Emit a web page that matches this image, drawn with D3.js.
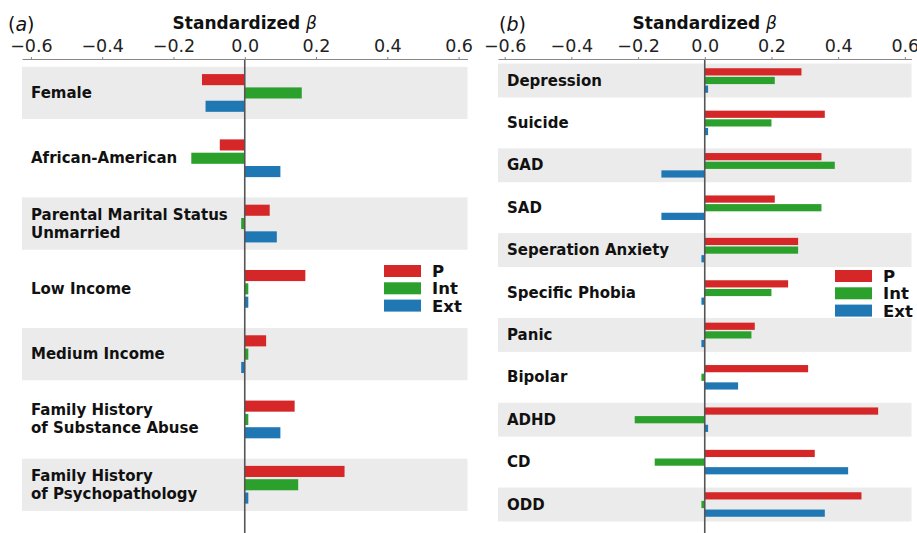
<!DOCTYPE html>
<html>
<head>
<meta charset="utf-8">
<script src="https://cdn.jsdelivr.net/npm/d3@7"></script>
<style>
  html, body { margin: 0; padding: 0; background: #fff; }
  svg { display: block; font-family: "DejaVu Sans", sans-serif; }
</style>
</head>
<body>
<svg id="chart" width="917" height="533"></svg>
<script>
// Predictor effects (panel a) and outcome effects (panel b), standardized beta
const series = ["P", "Int", "Ext"];
const seriesColors = ["#d62728", "#2ca02c", "#1f77b4"];

const predictors = [
  ["Female"],
  ["African-American"],
  ["Parental Marital Status", "Unmarried"],
  ["Low Income"],
  ["Medium Income"],
  ["Family History", "of Substance Abuse"],
  ["Family History", "of Psychopathology"]
];
const predP   = [-0.12, -0.07, 0.07, 0.17, 0.06, 0.14, 0.28];
const predInt = [ 0.16, -0.15, -0.01, 0.01, 0.01, 0.01, 0.15];
const predExt = [-0.11,  0.10, 0.09, 0.01, -0.01, 0.10, 0.01];

const outcomes = ["Depression", "Suicide", "GAD", "SAD", "Seperation Anxiety",
  "Specific Phobia", "Panic", "Bipolar", "ADHD", "CD", "ODD"];
const outP   = [0.29, 0.36, 0.35, 0.21, 0.28, 0.25, 0.15, 0.31, 0.52, 0.33, 0.47];
const outInt = [0.21, 0.20, 0.39, 0.35, 0.28, 0.20, 0.14, -0.01, -0.21, -0.15, -0.01];
const outExt = [0.01, 0.01, -0.13, -0.13, -0.01, -0.01, -0.01, 0.10, 0.01, 0.43, 0.36];

const xTicks = [-0.6, -0.4, -0.2, 0.0, 0.2, 0.4, 0.6];

const svg = d3.select("#chart");

function panel(cfg) {
  const g = svg.append("g");
  const x = d3.scaleLinear().domain([-cfg.xmax, cfg.xmax]).range(cfg.xRange);
  const y = d3.scaleBand().domain(d3.range(cfg.labels.length)).range(cfg.yRange).padding(0);
  const S = y.step();
  const ys = d3.scaleBand().domain(series).range([-0.289 * S, 0.289 * S]).paddingInner(0.167);

  // alternating row shading
  g.selectAll("rect.band")
    .data(d3.range(cfg.labels.length).filter(i => i % 2 === 0))
    .join("rect")
    .attr("x", cfg.xRange[0])
    .attr("width", cfg.xRange[1] - cfg.xRange[0])
    .attr("y", i => y(i) + 0.1 * S)
    .attr("height", 0.8 * S)
    .attr("fill", "#ebebeb");

  // bars
  const rows = cfg.labels.map((lab, i) => ({ i, vals: cfg.values.map(v => v[i]) }));
  const rowG = g.selectAll("g.row").data(rows).join("g")
    .attr("transform", d => `translate(0,${y(d.i) + S / 2})`);
  rowG.selectAll("rect")
    .data(d => d.vals.map((v, k) => ({ v, k })))
    .join("rect")
    .attr("x", d => x(Math.min(0, d.v)))
    .attr("width", d => Math.abs(x(d.v) - x(0)))
    .attr("y", d => ys(series[d.k]))
    .attr("height", ys.bandwidth())
    .attr("fill", d => seriesColors[d.k]);

  // row labels
  g.selectAll("text.lab").data(cfg.labels).join("text")
    .attr("x", cfg.labelX)
    .attr("y", (d, i) => {
      const lines = Array.isArray(d) ? d.length : 1;
      return y(i) + S / 2 + 5 - (lines - 1) * 9;
    })
    .attr("font-size", 15)
    .attr("font-weight", "bold")
    .attr("fill", "#111")
    .each(function (d) {
      const lines = Array.isArray(d) ? d : [d];
      d3.select(this).selectAll("tspan").data(lines).join("tspan")
        .attr("x", cfg.labelX)
        .attr("dy", (t, j) => j === 0 ? 0 : 18)
        .text(t => t);
    });

  // zero line
  g.append("line")
    .attr("x1", x(0)).attr("x2", x(0))
    .attr("y1", cfg.axisY).attr("y2", 533)
    .attr("stroke", "#555").attr("stroke-width", 1.6);

  // top axis
  const axis = d3.axisTop(x).tickValues(xTicks).tickSize(2).tickSizeOuter(0)
    .tickFormat(d => d3.format(".1f")(d).replace("-", "\u2212"));
  const ag = g.append("g").attr("transform", `translate(0,${cfg.axisY})`).call(axis);
  ag.select(".domain").attr("stroke", "#888");
  ag.selectAll(".tick line").attr("stroke", "#888");
  ag.selectAll(".tick text")
    .attr("font-size", 17.5)
    .attr("font-family", "DejaVu Sans")
    .attr("fill", "#222")
    .attr("dy", 0).attr("y", -7.5);

  // axis title
  const t = g.append("text")
    .attr("x", x(0)).attr("y", 29)
    .attr("text-anchor", "middle")
    .attr("font-size", 17)
    .attr("fill", "#111");
  t.append("tspan").attr("font-weight", "bold").text("Standardized ");
  t.append("tspan").attr("font-style", "italic").text("\u03B2");

  // panel tag
  const tag = g.append("text")
    .attr("x", cfg.tagX).attr("y", 31)
    .attr("font-size", 19)
    .attr("fill", "#111");
  tag.append("tspan").text("(");
  tag.append("tspan").attr("font-style", "italic").text(cfg.tag);
  tag.append("tspan").text(")");

  // legend
  const lg = g.append("g");
  series.forEach((s, k) => {
    const yy = cfg.legend.y + k * 17.3;
    lg.append("rect")
      .attr("x", cfg.legend.x).attr("y", yy)
      .attr("width", 37).attr("height", 12)
      .attr("fill", seriesColors[k]);
    lg.append("text")
      .attr("x", cfg.legend.x + 48).attr("y", yy + 12)
      .attr("font-size", 16.5).attr("font-weight", "bold")
      .attr("fill", "#111")
      .text(s);
  });
}

panel({
  labels: predictors,
  values: [predP, predInt, predExt],
  xmax: 0.625, xRange: [22, 467.5],
  yRange: [60.3, 517.4],
  axisY: 59, labelX: 31, tagX: 8, tag: "a",
  legend: { x: 384, y: 265 }
});

panel({
  labels: outcomes,
  values: [outP, outInt, outExt],
  xmax: 0.62, xRange: [498, 911.5],
  yRange: [59.3, 525.7],
  axisY: 59, labelX: 507, tagX: 499, tag: "b",
  legend: { x: 835, y: 270 }
});
</script>
</body>
</html>
